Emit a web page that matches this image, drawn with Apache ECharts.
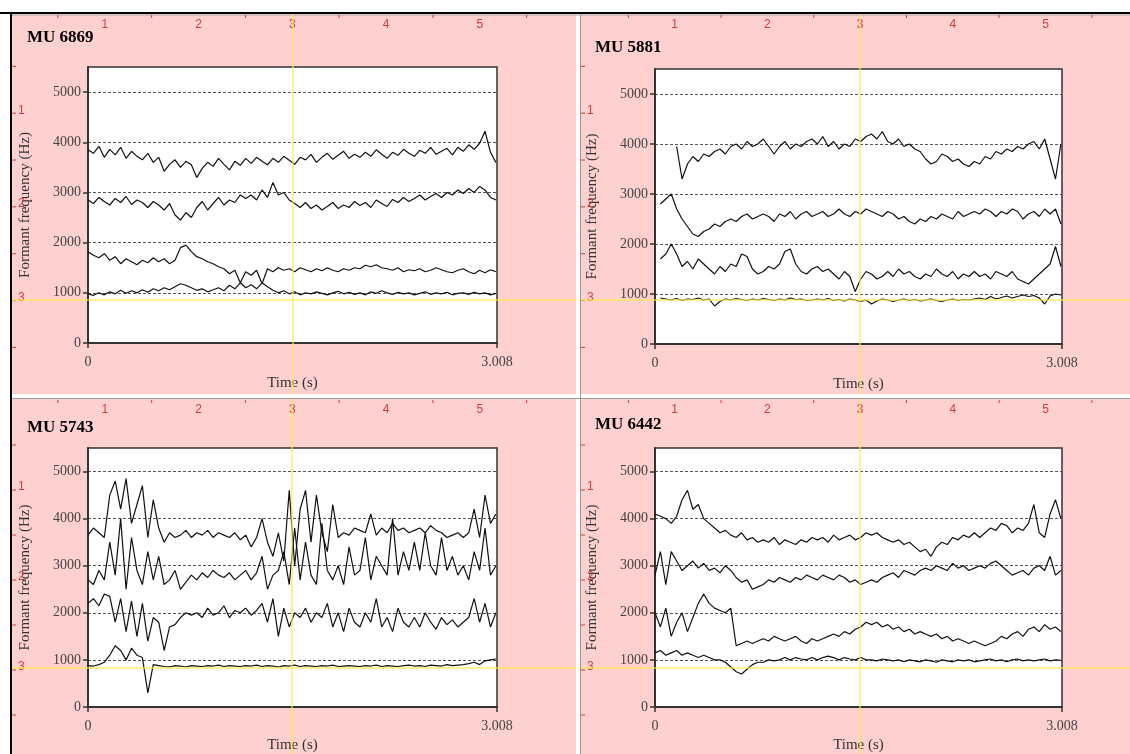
<!doctype html>
<html lang="en">
<head>
<meta charset="UTF-8">
<title>Formant tracks</title>
<script src="https://cdn.jsdelivr.net/npm/echarts@6/dist/echarts.min.js"></script>
<style>
  html, body { margin: 0; padding: 0; background: #fff; }
  #main { width: 1130px; height: 754px; }
</style>
</head>
<body>
<div id="main"></div>
<script>
// time points (s), shared by every track
var times = [0,0.04,0.08,0.12,0.16,0.2,0.24,0.28,0.32,0.36,
  0.4,0.44,0.48,0.52,0.56,0.6,0.64,0.68,0.72,0.76,
  0.8,0.84,0.88,0.92,0.96,1,1.04,1.08,1.12,1.16,
  1.2,1.24,1.28,1.32,1.36,1.4,1.44,1.48,1.52,1.56,
  1.6,1.64,1.68,1.72,1.76,1.8,1.84,1.88,1.92,1.96,
  2,2.04,2.08,2.12,2.16,2.2,2.24,2.28,2.32,2.36,
  2.4,2.44,2.48,2.52,2.56,2.6,2.64,2.68,2.72,2.76,
  2.8,2.84,2.88,2.92,2.96,3.0];

var yTicks = [0, 1000, 2000, 3000, 4000, 5000];

// MU 6869
var mu6869F1 = [980,950,1000,960,1020,980,1050,990,1040,1000,
  1060,1010,1080,1040,1100,1060,1120,1180,1150,1100,
  1050,1080,1020,1060,1100,1040,1150,1080,1200,1100,
  1160,1080,1200,1120,1050,1000,1040,980,1020,960,
  1000,980,1020,990,960,1000,1030,980,1010,970,
  1000,960,1020,990,1040,1000,970,1010,980,1000,
  960,990,1020,970,1000,980,1010,960,990,1000,
  970,1010,980,1000,960,990];
var mu6869F2 = [1820,1750,1700,1780,1650,1720,1580,1680,1620,1560,
  1650,1600,1700,1620,1680,1580,1650,1900,1950,1820,
  1720,1680,1620,1580,1520,1480,1380,1450,1200,1420,
  1350,1450,1180,1480,1420,1500,1450,1480,1420,1500,
  1460,1420,1480,1440,1500,1450,1420,1480,1450,1500,
  1480,1550,1520,1560,1500,1480,1450,1500,1420,1460,
  1440,1480,1420,1450,1500,1460,1420,1400,1450,1480,
  1420,1380,1450,1400,1460,1420];
var mu6869F3 = [2850,2780,2900,2820,2750,2880,2800,2920,2760,2850,
  2800,2700,2820,2750,2650,2780,2550,2450,2600,2500,
  2700,2820,2650,2780,2900,2750,2850,2800,2950,2880,
  2950,2850,3050,2900,3200,2950,3000,2850,2780,2700,
  2800,2680,2750,2650,2720,2800,2680,2750,2700,2820,
  2740,2800,2700,2850,2780,2720,2860,2800,2900,2820,
  2880,2950,2850,2920,2980,2900,3000,2950,3050,2980,
  3080,3000,3120,3050,2900,2850];
var mu6869F4 = [3850,3780,3920,3700,3860,3750,3900,3680,3820,3720,
  3650,3780,3600,3700,3420,3560,3650,3500,3620,3550,
  3300,3480,3600,3520,3680,3560,3450,3620,3540,3680,
  3580,3700,3620,3550,3680,3600,3720,3640,3560,3700,
  3650,3760,3600,3700,3780,3660,3740,3820,3680,3760,
  3700,3800,3720,3850,3760,3680,3800,3740,3860,3780,
  3720,3840,3780,3900,3760,3820,3880,3750,3900,3820,
  3950,3860,3980,4220,3800,3600];

// MU 5881
var mu5881F1 = [null,920,900,880,910,870,900,890,920,880,
  900,760,850,900,880,910,890,870,900,880,
  910,890,870,900,880,920,890,900,870,880,
  900,880,910,870,890,860,900,880,850,880,
  800,860,900,880,850,880,900,870,890,860,
  880,900,870,850,880,900,870,890,880,900,
  920,890,950,900,930,960,920,950,980,950,
  970,920,800,960,1000,980];
var mu5881F2 = [null,1700,1800,2000,1800,1550,1650,1500,1700,1600,
  1500,1400,1550,1450,1600,1550,1800,1750,1500,1400,
  1450,1550,1500,1600,1850,1900,1600,1450,1400,1500,
  1550,1450,1500,1400,1300,1450,1350,1050,1300,1450,
  1400,1300,1350,1450,1350,1500,1400,1450,1350,1300,
  1400,1350,1500,1400,1350,1450,1300,1400,1350,1450,
  1350,1400,1300,1450,1400,1350,1450,1300,1250,1200,
  1300,1400,1500,1600,1950,1550];
var mu5881F3 = [null,2800,2900,3000,2700,2500,2350,2200,2150,2250,
  2300,2400,2350,2450,2500,2450,2550,2600,2500,2550,
  2600,2550,2450,2600,2550,2650,2500,2600,2650,2550,
  2600,2650,2550,2600,2700,2600,2550,2650,2600,2700,
  2650,2600,2550,2650,2600,2500,2550,2450,2400,2500,
  2450,2550,2500,2600,2550,2500,2650,2550,2600,2650,
  2600,2700,2650,2550,2650,2600,2700,2650,2500,2600,
  2650,2550,2700,2600,2700,2400];
var mu5881F4 = [null,null,null,null,3950,3300,3600,3750,3650,3800,
  3750,3850,3900,3800,3950,4000,3900,4050,3950,4000,
  4100,3950,3800,3950,4050,3900,4000,3950,4050,4100,
  4000,4150,3950,4050,3900,4000,3950,4100,4050,4150,
  4200,4100,4250,4050,4000,4100,3950,4000,3900,3850,
  3700,3600,3650,3800,3750,3650,3700,3600,3550,3650,
  3600,3750,3700,3850,3800,3900,3850,3950,3900,4000,
  4050,3900,4100,3700,3300,4000];

// MU 5743
var mu5743F1 = [880,870,900,950,1100,1300,1200,1000,1250,1100,
  1050,300,900,880,860,850,880,870,850,880,
  870,860,880,870,890,860,880,870,860,880,
  870,890,860,880,870,850,880,870,890,860,
  880,870,860,880,870,890,860,870,880,870,
  860,880,870,890,860,880,870,860,880,890,
  870,880,860,890,880,870,900,880,890,900,
  920,950,900,980,1000,1020];
var mu5743F2 = [2200,2300,2150,2400,2350,1800,2300,1600,2250,1500,
  2200,1400,1900,1800,1200,1700,1750,1900,2000,1950,
  2000,1900,2100,1950,2000,2150,1900,2050,2000,2100,
  1950,2050,2200,1800,2300,1500,2100,1700,2000,1900,
  2100,1800,2000,1900,2200,1700,2000,1600,2100,1800,
  1700,2000,1800,2300,1700,1900,1600,2100,1800,1700,
  1900,1700,2000,1800,1650,1900,1750,1850,1700,1800,
  1900,2300,1800,2200,1700,2000];
var mu5743F3 = [2700,2600,2900,2700,3500,2800,4000,2500,3600,2900,
  2600,3300,2700,3200,2600,2700,2900,2500,2650,2800,
  2700,2850,2750,2900,2800,2750,2850,2700,2800,2900,
  2700,2850,3200,2500,2800,2900,3300,2600,3800,2700,
  3500,2800,2600,3900,2900,2700,3000,2600,3400,2800,
  2900,3600,2700,3200,3000,2800,4000,2800,3300,2900,
  3500,2900,3700,3000,2800,3600,2900,3200,2800,3000,
  2700,3300,2900,3800,2800,3000];
var mu5743F4 = [3650,3800,3700,3600,4500,4800,4200,4850,3900,4300,
  4700,3600,4400,3800,3500,3700,3600,3650,3750,3600,
  3700,3650,3750,3600,3700,3650,3600,3700,3550,3650,
  3400,3600,4000,3500,3200,3700,3100,4600,3000,4200,
  4600,3500,4500,3700,3300,4300,3600,3700,3650,3800,
  3750,3700,4100,3650,3800,3700,3900,3750,3800,3700,
  3750,3800,3700,3850,3750,3700,3600,3650,3700,3600,
  3700,4200,3600,4500,3900,4100];

// MU 6442
var mu6442F1 = [1150,1200,1100,1150,1200,1100,1150,1100,1050,1100,
  1050,1000,1000,950,850,750,700,800,900,950,
  950,1000,980,1000,1050,1000,1050,1020,1000,1050,
  1000,1050,1080,1050,1000,1050,1020,1000,1050,1000,
  1000,980,1020,1000,980,1000,960,1000,980,960,
  1000,980,950,1000,980,960,1000,980,1000,960,
  980,1000,1020,980,1000,960,1000,1020,980,1000,
  980,1000,1020,980,1000,990];
var mu6442F2 = [2000,1700,2100,1500,1800,2000,1600,1900,2200,2400,
  2200,2100,2050,2000,2100,1300,1350,1400,1350,1400,
  1450,1400,1500,1450,1400,1450,1500,1400,1350,1450,
  1400,1450,1500,1550,1500,1600,1550,1650,1700,1800,
  1750,1800,1700,1750,1650,1700,1600,1650,1550,1600,
  1550,1500,1550,1450,1500,1400,1450,1400,1350,1400,
  1350,1300,1350,1400,1500,1450,1550,1600,1500,1650,
  1700,1600,1750,1650,1700,1600];
var mu6442F3 = [2800,3300,2600,3300,3100,2900,3000,3100,2950,3050,
  2900,2950,2850,3000,2900,2750,2650,2700,2500,2550,
  2600,2700,2650,2750,2700,2650,2750,2700,2800,2750,
  2700,2800,2750,2700,2800,2750,2650,2700,2600,2650,
  2700,2650,2750,2800,2850,2750,2900,2850,2800,2900,
  2950,2900,3000,2950,2900,3050,2950,3000,2900,2950,
  3000,2950,3050,3100,3000,2900,2800,2850,2900,2800,
  2950,3000,2900,3200,2800,2900];
var mu6442F4 = [4100,4050,4000,3900,4050,4400,4600,4200,4300,4000,
  3900,3800,3700,3750,3650,3600,3700,3550,3600,3500,
  3550,3500,3600,3450,3550,3500,3450,3550,3500,3600,
  3550,3600,3500,3650,3550,3600,3650,3550,3600,3700,
  3650,3700,3600,3550,3500,3550,3450,3500,3400,3300,
  3350,3200,3400,3500,3450,3600,3550,3650,3600,3700,
  3600,3700,3800,3750,3900,3850,3700,3800,3750,3900,
  4300,3700,3600,4100,4400,4000];

var panels = [
  { title: 'MU 6869', tracks: [mu6869F1, mu6869F2, mu6869F3, mu6869F4],
    grid: { left: 88, top: 67, width: 409, height: 276 }, titleAt: [22, 24], nameGapX: 33 },
  { title: 'MU 5881', tracks: [mu5881F1, mu5881F2, mu5881F3, mu5881F4],
    grid: { left: 655, top: 69, width: 407, height: 275 }, titleAt: [590, 34], nameGapX: 33 },
  { title: 'MU 5743', tracks: [mu5743F1, mu5743F2, mu5743F3, mu5743F4],
    grid: { left: 88, top: 448, width: 409, height: 261 }, titleAt: [22, 414], nameGapX: 31 },
  { title: 'MU 6442', tracks: [mu6442F1, mu6442F2, mu6442F3, mu6442F4],
    grid: { left: 655, top: 448, width: 407, height: 261 }, titleAt: [590, 411], nameGapX: 31 }
];

var serif = 'Liberation Serif, Times New Roman, serif';
var pink = '#ffd0d0';
var rulerRed = '#d23c3c';
var yellow = 'rgba(255,236,70,0.8)';

var grids = [], xAxes = [], yAxes = [], series = [], titles = [];

panels.forEach(function (p, k) {
  grids.push(Object.assign({ show: true, backgroundColor: '#fff', borderColor: '#333', borderWidth: 1.5 }, p.grid));
  titles.push({ text: p.title, left: p.titleAt[0], top: p.titleAt[1],
    textStyle: { fontFamily: serif, fontWeight: 'bold', fontSize: 17, color: '#000' } });
  xAxes.push({
    gridIndex: k, type: 'value', min: 0, max: 3.008, interval: 3.008,
    axisLine: { show: true, onZero: false, lineStyle: { color: '#333', width: 2 } },
    axisTick: { show: true, length: 5, lineStyle: { color: '#333', width: 1.5 } },
    axisLabel: { color: '#444', fontFamily: serif, fontSize: 14, margin: 12,
      formatter: function (v) { return v === 0 ? '0' : '3.008'; } },
    splitLine: { show: false },
    name: 'Time (s)', nameLocation: 'middle', nameGap: p.nameGapX,
    nameTextStyle: { fontFamily: serif, fontSize: 15, color: '#333' }
  });
  yAxes.push({
    gridIndex: k, type: 'value', min: 0, max: 5500, interval: 1000,
    axisLine: { show: true, onZero: false, lineStyle: { color: '#333', width: 2 } },
    axisTick: { show: true, length: 5, customValues: yTicks, lineStyle: { color: '#333', width: 1.5 } },
    axisLabel: { color: '#444', fontFamily: serif, fontSize: 14, margin: 7, customValues: yTicks,
      formatter: function (v) { return v > 5000 ? '' : String(v); } },
    splitLine: { show: true, lineStyle: { color: '#555', width: 1, type: [3, 2] } },
    name: 'Formant frequency (Hz)', nameLocation: 'middle', nameGap: 55,
    nameTextStyle: { fontFamily: serif, fontSize: 15, color: '#333' }
  });
  p.tracks.forEach(function (f, j) {
    series.push({
      name: p.title + ' F' + (j + 1), type: 'line', xAxisIndex: k, yAxisIndex: k,
      showSymbol: false, symbol: 'none', connectNulls: false, silent: true,
      lineStyle: { color: '#111', width: 1.2 },
      data: times.map(function (t, i) { return [t, f[i]]; })
    });
  });
});

// Picture window decoration: pink panels, rulers, crosshair
var g = [];
function rect(x, y, w, h, fill, z) {
  g.push({ type: 'rect', shape: { x: x, y: y, width: w, height: h }, style: { fill: fill }, z: z, silent: true });
}
function line(x1, y1, x2, y2, stroke, w, z) {
  g.push({ type: 'line', shape: { x1: x1, y1: y1, x2: x2, y2: y2 }, style: { stroke: stroke, lineWidth: w }, z: z, silent: true });
}
function label(x, y, s, align) {
  g.push({ type: 'text', x: x, y: y, style: { text: s, fill: rulerRed, font: '12px Liberation Sans, Arial, sans-serif',
    textAlign: align, textVerticalAlign: 'middle' }, z: 5, silent: true });
}
function ruler(left, top, right, bottom, ox, stepX, oy, stepY) {
  var k, x, y;
  for (k = 0.5; ox + k * stepX < right - 4; k += 0.5) {
    x = ox + k * stepX;
    if (k % 1 === 0) label(x, top + 11, String(k), 'center');
    else line(x, top + 1, x, top + 4, rulerRed, 1, 5);
  }
  for (k = 0.5; oy + k * stepY < bottom - 4; k += 0.5) {
    y = oy + k * stepY;
    line(left, y, left + 4, y, rulerRed, 1, 5);
    if (k % 1 === 0) label(left + 6, y - 3, String(k), 'left');
  }
}

rect(12, 14, 564, 380, pink, -10);
rect(580, 14, 550, 380, pink, -10);
rect(12, 398, 564, 356, pink, -10);
rect(580, 398, 550, 356, pink, -10);
rect(0, 12, 1130, 2, '#000', 6);
rect(10, 12, 2, 742, '#000', 6);
line(12, 15, 1130, 15, '#aaa', 1, 4);
line(580.5, 14, 580.5, 754, '#999', 1, 4);
line(12, 398.5, 1130, 398.5, '#999', 1, 4);

ruler(12, 14, 576, 394, 11, 93.75, 19.5, 93.7);
ruler(581, 14, 1130, 394, 582, 92.7, 19.5, 93.7);
ruler(12, 399, 576, 754, 11, 93.75, 400, 90);
ruler(581, 399, 1130, 754, 582, 92.7, 400, 90);

line(293, 14, 293, 394, yellow, 1.5, 50);
line(860, 14, 860, 394, yellow, 1.5, 50);
line(292, 399, 292, 754, yellow, 1.5, 50);
line(860, 399, 860, 754, yellow, 1.5, 50);
line(12, 300, 576, 300, yellow, 1.5, 50);
line(581, 300, 1130, 300, yellow, 1.5, 50);
line(12, 668, 576, 668, yellow, 1.5, 50);
line(581, 668, 1130, 668, yellow, 1.5, 50);

var chart = echarts.init(document.getElementById('main'));
chart.setOption({
  backgroundColor: '#fff',
  animation: false,
  title: titles,
  grid: grids,
  xAxis: xAxes,
  yAxis: yAxes,
  series: series,
  graphic: { elements: g }
});
</script>
</body>
</html>
